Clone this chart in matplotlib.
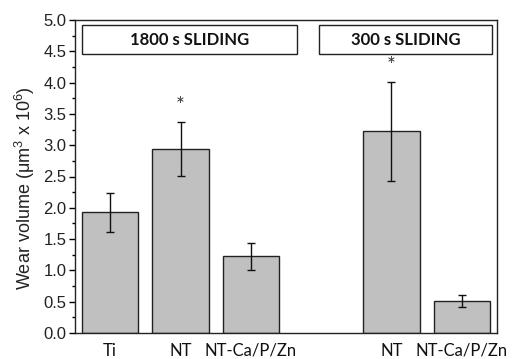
import matplotlib
matplotlib.use("Agg")
import matplotlib.pyplot as plt
from matplotlib.patches import Rectangle
from matplotlib.ticker import MultipleLocator

plt.rcParams["mathtext.fontset"] = "custom"
plt.rcParams["mathtext.rm"] = "Liberation Sans"
plt.rcParams["mathtext.it"] = "Liberation Sans"
plt.rcParams["mathtext.default"] = "rm"

categories = ["Ti", "NT", "NT-Ca/P/Zn", "NT", "NT-Ca/P/Zn"]
positions = [1, 2, 3, 5, 6]
values = [1.93, 2.94, 1.225, 3.22, 0.51]
errors = [0.31, 0.43, 0.22, 0.79, 0.09]
star_bars = [1, 3]  # indices of bars with asterisk
group_labels = ["1800 s SLIDING", "300 s SLIDING"]

fig = plt.figure(figsize=(5.18, 3.59), dpi=100)
ax = fig.add_axes([75/518, 1-333/359, (497-75)/518, (333-20)/359])

ax.bar(positions, values, width=0.8, color="#c0c0c0", edgecolor="#222222", linewidth=1.0, zorder=2)
ax.errorbar(positions, values, yerr=errors, fmt="none", ecolor="#111111", elinewidth=1.0,
            capsize=3, capthick=1.0, zorder=3)
for i in star_bars:
    ax.text(positions[i], values[i] + errors[i] + 0.25, "*", ha="center", va="center",
            fontsize=15, family="Lato", color="#333333")

ax.set_xlim(0.5, 6.5)
ax.set_ylim(0, 5.0)
ax.yaxis.set_major_locator(MultipleLocator(0.5))
ax.yaxis.set_minor_locator(MultipleLocator(0.25))
ax.set_yticks([i * 0.5 for i in range(11)])
ax.set_yticklabels([f"{i*0.5:.1f}" for i in range(11)], family="Liberation Sans", fontsize=12, color="#222222")
ax.tick_params(axis="y", which="major", direction="out", length=4, width=1, right=False, pad=2)
ax.tick_params(axis="y", which="minor", direction="out", length=2.5, width=1, right=False)
ax.set_xticks(positions)
ax.set_xticklabels(categories, family="Lato", fontsize=12, color="#111111")
ax.tick_params(axis="x", length=0, pad=7)
for s in ax.spines.values():
    s.set_linewidth(1.0)
    s.set_color("#222222")

fig.text(25/518, 1 - 188/359, "Wear volume (\u03bcm$^{3}$ x 10$^{6}$)", rotation=90,
         ha="center", va="center", family="Liberation Sans", fontsize=13, color="#222222")

# group label boxes
boxes = [(0.6, 3.66), (3.97, 6.43)]
for (x0, x1), lab in zip(boxes, group_labels):
    ax.add_patch(Rectangle((x0, 4.45), x1 - x0, 0.47, facecolor="white", edgecolor="#222222",
                           linewidth=1.0, zorder=4))
    ax.text((x0 + x1) / 2, 4.685, lab, ha="center", va="center", fontsize=12,
            fontweight="bold", family="Lato", color="#111111", zorder=5)

fig.savefig("out.png", dpi=100)
